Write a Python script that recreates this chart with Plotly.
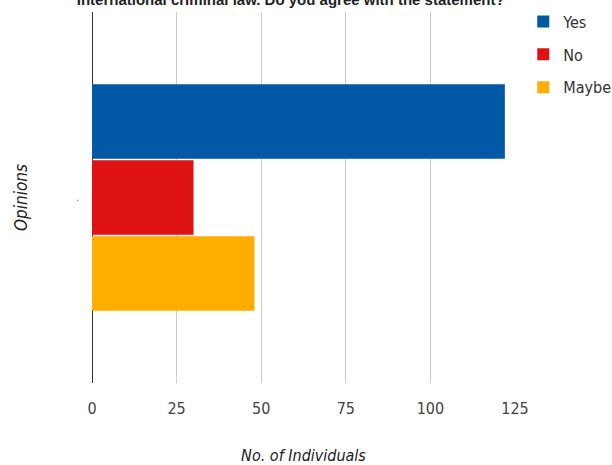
import plotly.graph_objects as go

category = ["."]
series_names = ["Yes", "No", "Maybe"]
series_values = [[122], [30], [48]]
series_colors = ["#0158a4", "#de1212", "#ffad00"]
x_ticks = [0, 25, 50, 75, 100, 125]

title_text = "International criminal law. Do you agree with the statement?"
x_title = "No. of Individuals"
y_title = "Opinions"

FONT = "DejaVu Sans Condensed, Liberation Sans Narrow, Arial Narrow, Liberation Sans, Arial, sans-serif"

fig = go.Figure()
series = list(zip(series_names, series_values, series_colors))
# plotly draws first horizontal trace at the bottom, so add reversed
for rank, (name, vals, col) in reversed(list(enumerate(series, start=1))):
    fig.add_trace(go.Bar(
        y=category, x=vals, name=name, orientation="h", legendgroup=name,
        legendrank=rank,
        marker=dict(color=col, line=dict(width=0)),
    ))

fig.update_layout(
    width=612, height=465,
    margin=dict(l=92, r=97, t=12, b=82, autoexpand=False),
    paper_bgcolor="white", plot_bgcolor="white",
    barmode="group", bargap=0.385, bargroupgap=0.02,
    font=dict(family=FONT, color="#444444"),
    title=dict(text="<b>" + title_text + "</b>", x=0.475, xanchor="center",
               xref="container", yref="container", y=1.0, yanchor="middle",
               font=dict(size=15, color="#222222", family="Liberation Sans, Arial, sans-serif")),
    showlegend=True,
    legend=dict(xref="container", yref="container", x=0.855, xanchor="left",
                y=0.99, yanchor="top", tracegroupgap=9,
                traceorder="grouped", font=dict(size=16, color="#333333"),
                bgcolor="rgba(0,0,0,0)"),
    xaxis=dict(range=[0, 125], tickvals=x_ticks, showgrid=True, gridcolor="#cccccc",
               gridwidth=1, zeroline=True, zerolinecolor="#333333", zerolinewidth=1.3,
               showline=False, ticks="", tickfont=dict(size=16, color="#444444"),
               ticklabelstandoff=14,
               title=dict(text="<i>" + x_title + "</i>", standoff=36,
                          font=dict(size=16, color="#222222"))),
    yaxis=dict(showgrid=False, zeroline=False, showline=False, ticks="",
               tickfont=dict(size=10, color="#666666"), ticklabelstandoff=12,
               title=dict(text="<i>" + y_title + "</i>", standoff=44,
                          font=dict(size=17, color="#222222"))),
)

fig.write_html("out.html")
